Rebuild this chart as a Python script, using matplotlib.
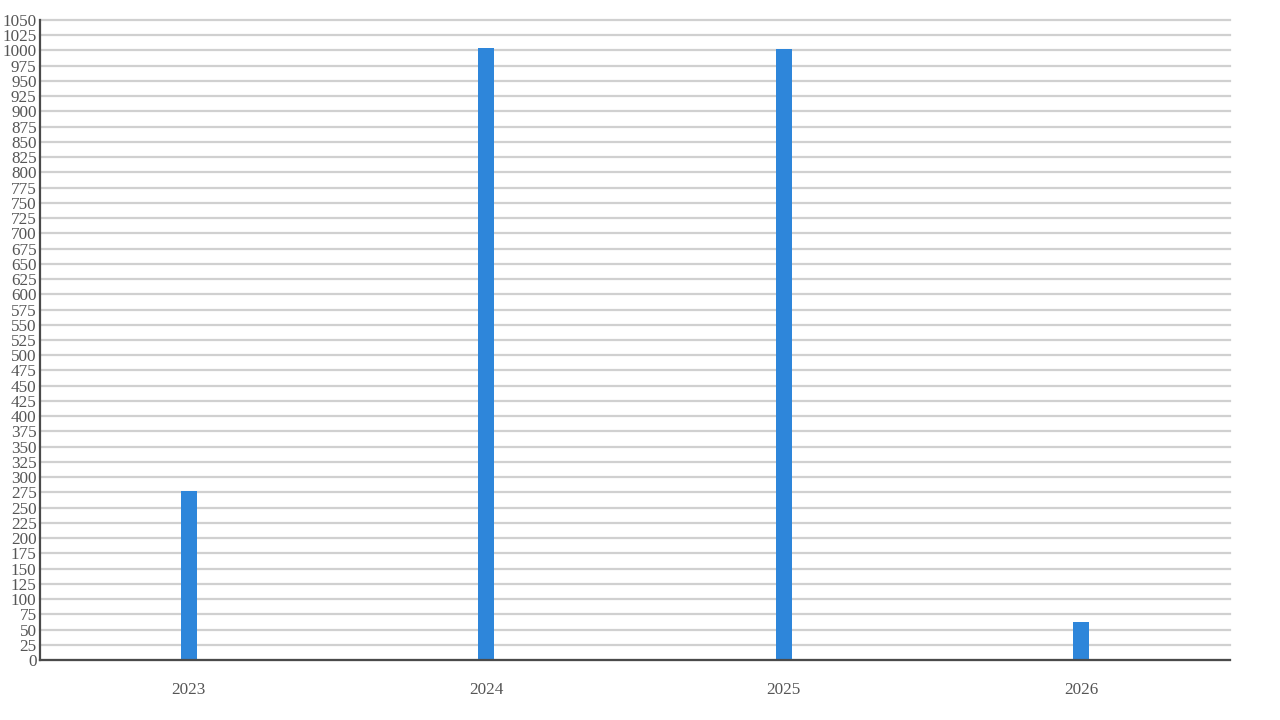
import matplotlib
matplotlib.use('Agg')
import matplotlib.pyplot as plt
from matplotlib.ticker import MultipleLocator

years = ['2023', '2024', '2025', '2026']
values = [277, 1004, 1002, 62]

plt.rcParams['font.family'] = ['Liberation Serif', 'DejaVu Serif']

fig = plt.figure(figsize=(12.8, 7.2), dpi=100)
ax = fig.add_axes([40 / 1280, 60 / 720, 1190 / 1280, 640 / 720])

x = list(range(len(years)))
ax.bar(x, values, width=0.054, color='#2e86da', zorder=3)

ax.set_xlim(-0.5, len(years) - 0.5)
ax.set_ylim(0, 1050)
ax.yaxis.set_major_locator(MultipleLocator(25))
ax.set_xticks(x)
ax.set_xticklabels(years)

ax.grid(axis='y', color='#d0d0d0', linewidth=1.6, zorder=0)
ax.set_axisbelow(True)
for line in ax.get_ygridlines():
    line.set_clip_on(False)

for side in ['top', 'right']:
    ax.spines[side].set_visible(False)
for side in ['left', 'bottom']:
    ax.spines[side].set_color('#4a4a4a')
    ax.spines[side].set_linewidth(1.6)
    ax.spines[side].set_zorder(4)

ax.tick_params(axis='y', length=0, pad=2.5, labelsize=12.3, labelcolor='#555555')
ax.tick_params(axis='x', length=0, pad=16, labelsize=12.3, labelcolor='#555555')

fig.savefig('out.png', dpi=100, facecolor='white')
